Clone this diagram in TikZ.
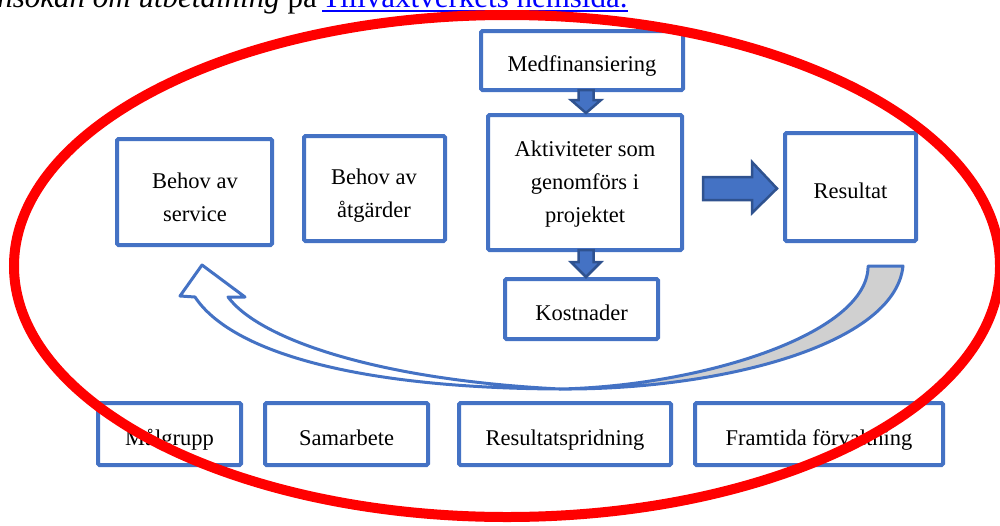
\documentclass[tikz,border=0pt]{standalone}
\usepackage{fontspec}
\setmainfont{Liberation Serif}
\usetikzlibrary{calc}
\definecolor{boxblue}{RGB}{68,114,196}
\definecolor{darkblue}{RGB}{47,82,143}
\definecolor{tailgray}{RGB}{208,208,208}
\definecolor{linkblue}{RGB}{0,0,255}
\begin{document}
\begin{tikzpicture}[x=1pt,y=-1pt,
  box/.style={draw=boxblue, line width=4pt, rectangle, rounded corners=1.5pt, outer sep=0pt, inner sep=0pt, fill=white},
  lbl/.style={font=\fontsize{22.5}{33}\selectfont, align=center, inner sep=0pt},
  one/.style={font=\fontsize{22.5}{33}\selectfont, text height=22pt, text depth=0pt},
  blockarrow/.style={fill=boxblue, draw=darkblue, line width=2.5pt, line join=miter},
  ring/.style={draw=red, line width=10pt},
  curved/.style={draw=boxblue, line width=3pt, line join=round},
  toptext/.style={inner sep=0pt, font=\fontsize{31}{36}\selectfont}
]
\useasboundingbox (0,0) rectangle (1000,525);

% top line of text (cut by the page edge)
\node[toptext, anchor=base east] (intro) at (317,7.5) {\textit{Ansökan om utbetalning} på};
\node[toptext, anchor=base west, text=linkblue] (link) at (322,7.5) {Tillväxtverkets hemsida.};
\draw[linkblue, line width=1.5pt] ([yshift=-3.5pt]link.base west) -- ([yshift=-3.5pt]link.base east);

% boxes
\node[box, minimum width=155pt, minimum height=106pt] (serv) at (194.5,192) {};
\node[lbl] (servt) at (195,196.8) {Behov av\\service};
\node[box, minimum width=141pt, minimum height=105pt] (atg) at (374.5,188.5) {};
\node[lbl] (atgt) at (374,195.3) {Behov av\\åtgärder};
\node[box, one, minimum width=202pt, minimum height=59pt] (med) at (582,60.5) {Medfinansiering};
\node[box, minimum width=194pt, minimum height=135pt] (akt) at (585,182.5) {};
\node[lbl] (aktt) at (585,184.3) {Aktiviteter som\\genomförs i\\projektet};
\node[box, one, minimum width=153pt, minimum height=60pt] (kost) at (581.5,309) {Kostnader};
\node[box, one, minimum width=131pt, minimum height=108pt] (res) at (850.5,187) {Resultat};

\node[box, one, minimum width=143pt, minimum height=62pt] (mal) at (169.5,434) {Målgrupp};
\node[box, one, minimum width=163pt, minimum height=62pt] (sam) at (346.5,434) {Samarbete};
\node[box, one, minimum width=212pt, minimum height=62pt] (rsp) at (565,434) {Resultatspridning};
\node[box, one, minimum width=248pt, minimum height=62pt] (fram) at (819,434) {Framtida förvaltning};

% block arrows
\path ($(med.south)+(4,0)$) coordinate (d1a);
\path ($(akt.north)+(1,-2)$) coordinate (d1b);
\draw[blockarrow] ($(d1a)+(-7.5,0)$) -- ($(d1a)+(7.5,0)$) -- ($(d1a)+(7.5,10)$) -- ($(d1a)+(15,10)$) -- (d1b) -- ($(d1a)+(-15,10)$) -- ($(d1a)+(-7.5,10)$) -- cycle;

\path ($(akt.south)+(1,0)$) coordinate (d2a);
\path ($(kost.north)+(4.5,-2)$) coordinate (d2b);
\draw[blockarrow] ($(d2a)+(-7.5,0)$) -- ($(d2a)+(7.5,0)$) -- ($(d2a)+(7.5,12)$) -- ($(d2a)+(15,12)$) -- (d2b) -- ($(d2a)+(-15,12)$) -- ($(d2a)+(-7.5,12)$) -- cycle;

\path ($(akt.east)+(21,6)$) coordinate (r1);
\path ($(res.west)+(-8,1.5)$) coordinate (r2);
\draw[blockarrow] ($(r1)+(0,-11.5)$) -- ($(r1)+(49,-11.5)$) -- ($(r1)+(49,-26.5)$) -- (r2) -- ($(r1)+(49,24.5)$) -- ($(r1)+(49,11.5)$) -- ($(r1)+(0,11.5)$) -- cycle;

% curved arrow back from Resultat to Behov av service
\draw[curved, fill=tailgray] (868,266) -- (903,266) .. controls (895,345) and (720,390) .. (560,389) .. controls (700,386) and (865,335) .. (868,268) -- cycle;
\draw[curved, fill=white] (202,265) -- (245,297) -- (228,297) .. controls (260,340) and (380,380) .. (560,389) .. controls (350,388) and (230,350) .. (195,297) -- (180,296) -- cycle;

% red ring
\draw[ring] (507,266) ellipse (493 and 251);
\end{tikzpicture}
\end{document}
